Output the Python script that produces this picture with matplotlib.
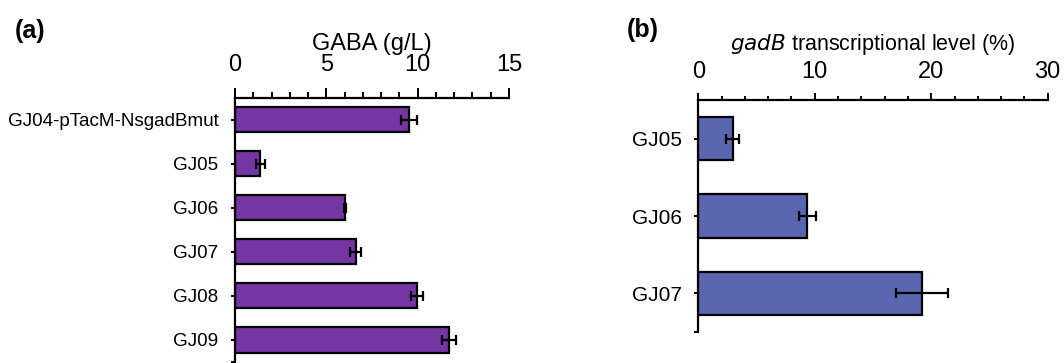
import matplotlib
matplotlib.use("Agg")
import matplotlib.pyplot as plt
from matplotlib.ticker import MultipleLocator, FixedLocator

plt.rcParams['font.family'] = ['Liberation Sans', 'DejaVu Sans']

# panel (a): GABA titre
strains_a = ["GJ04-pTacM-NsgadBmut", "GJ05", "GJ06", "GJ07", "GJ08", "GJ09"]
gaba = [9.53, 1.39, 6.04, 6.62, 9.96, 11.71]
gaba_err = [0.43, 0.25, 0.05, 0.30, 0.31, 0.39]

# panel (b): gadB transcription
strains_b = ["GJ05", "GJ06", "GJ07"]
gadb = [2.95, 9.37, 19.2]
gadb_err = [0.55, 0.76, 2.23]

fig = plt.figure(figsize=(10.64, 3.63), dpi=100)
ax1 = fig.add_axes([235/1064, 1/363, 274/1064, 264.5/363])
ax2 = fig.add_axes([698.3/1064, 31/363, 349.4/1064, 232/363])


def style(ax, labels, vals, errs, color, xmax, major, minor, bh, tick_fs,
          lab_fs, maj_len, min_len, pad):
    y = list(range(len(labels)))
    ax.barh(y, vals, height=bh, color=color, edgecolor="black", linewidth=1.6,
            zorder=2)
    ax.errorbar(vals, y, xerr=errs, fmt="none", ecolor="black", elinewidth=1.6,
                capsize=3.5, capthick=1.6, zorder=3)
    ax.set_xlim(0, xmax)
    ax.set_ylim(len(labels) - 0.5, -0.5)
    ax.xaxis.set_major_locator(MultipleLocator(major))
    ax.xaxis.set_minor_locator(MultipleLocator(minor))
    ax.xaxis.tick_top()
    ax.xaxis.set_label_position("top")
    ax.set_yticks(y)
    ax.set_yticklabels(labels, fontsize=lab_fs)
    ax.yaxis.set_minor_locator(FixedLocator([len(labels) - 0.5]))
    for s in ["right", "bottom"]:
        ax.spines[s].set_visible(False)
    for s in ["left", "top"]:
        ax.spines[s].set_linewidth(1.6)
    ax.tick_params(axis="x", which="major", length=maj_len, width=1.4, pad=pad,
                   labelsize=tick_fs, direction="out")
    ax.tick_params(axis="x", which="minor", length=min_len, width=1.4,
                   direction="out")
    ax.tick_params(axis="y", which="both", length=3, width=1.4, pad=9)


style(ax1, strains_a, gaba, gaba_err, "#7535A3", 15, 5, 1, 0.57, 17, 13.6,
      7, 4, 8.5)
ax1.set_xlabel("GABA (g/L)", fontsize=17, labelpad=3)

style(ax2, strains_b, gadb, gadb_err, "#5B66B0", 30, 10, 2, 0.56, 17, 15,
      5, 3, 7.5)
ax2.set_xlabel(r"$\it{gadB}$ transcriptional level (%)", fontsize=15.5,
               labelpad=8)

fig.text(15/1064, 1 - 31/363, "(a)", fontsize=18, fontweight="bold",
         va="center", ha="left")
fig.text(627/1064, 1 - 30/363, "(b)", fontsize=18, fontweight="bold",
         va="center", ha="left")

fig.savefig("out.png", dpi=100)
